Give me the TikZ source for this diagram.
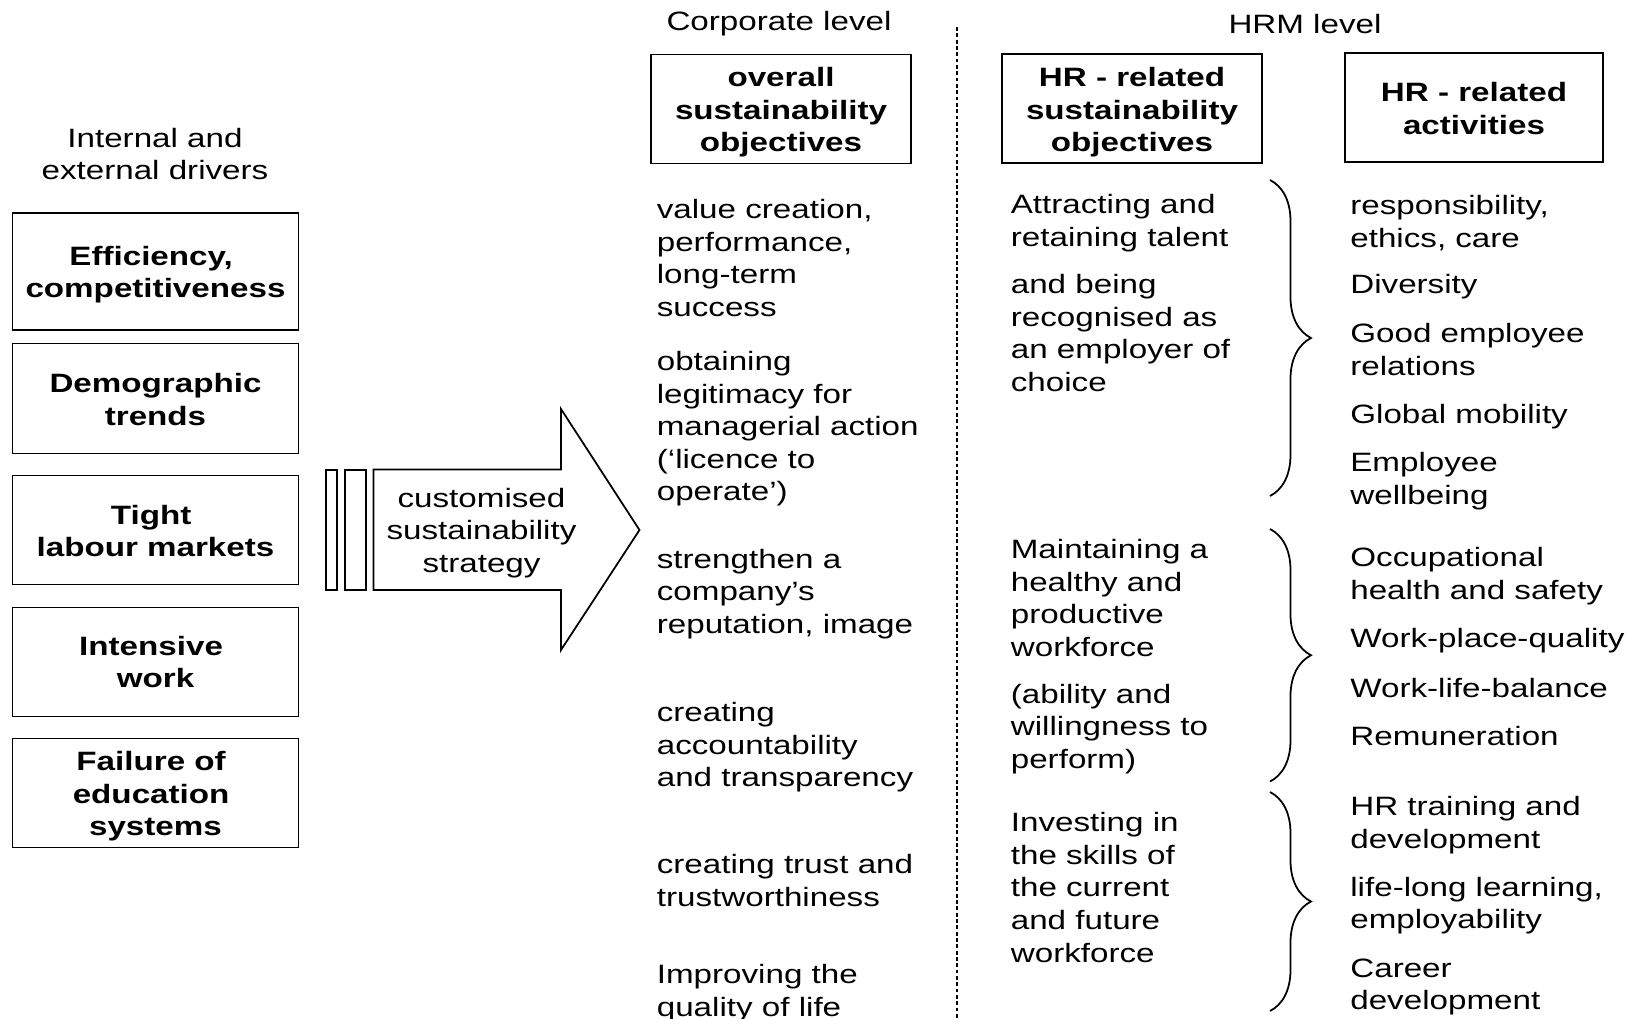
\documentclass[tikz,border=0pt]{standalone}
\usepackage{fontspec}
\setmainfont{Liberation Sans}[FakeStretch=1.25]
\usepackage{tikz}
\usetikzlibrary{decorations.pathreplacing}
\newcommand\figfont{\fontsize{15.1pt}{18.5pt}\selectfont}
\newcommand\tgap{\kern5pt}
\tikzset{
  dBox/.style={draw,line width=1pt,minimum width=5.72cm,minimum height=2.18cm,inner sep=0pt},
  hBox/.style={draw,line width=1pt,minimum height=2.18cm,inner sep=0pt},
  bTxt/.style={align=center,inner sep=0pt,font=\figfont\bfseries},
  cText/.style={anchor=west,align=left,inner sep=0pt,font=\figfont,yshift=-0.06cm},
  lvl/.style={align=center,inner sep=0pt,font=\figfont,yshift=-0.06cm},
  bar/.style={draw,line width=1pt,minimum height=2.41cm,inner sep=0pt},
  hrBrace/.style={decorate,decoration={brace,amplitude=0.82cm},line width=1pt},
}

\begin{document}
\begin{tikzpicture}[x=1cm,y=1cm]
\useasboundingbox (0,0) rectangle (32.84,-20.38);

% level headings and the divider
\node[lvl] (corp) at (15.58,-0.42) {Corporate level};
\node[lvl] (hrm)  at (26.1,-0.42)  {HRM level};
\coordinate (divtop) at (19.14,-0.54);
\coordinate (divbot) at (19.14,-20.38);
\draw[line width=0.9pt,dash pattern=on 2.2pt off 1.4pt] (divtop) -- (divbot);

% drivers
\node[lvl] (drv) at (3.1,-3.02) {Internal and\\external drivers};
\node[dBox,minimum height=2.35cm,
  label={[bTxt,yshift=-0.06cm]center:{Efficiency,\tgap\\competitiveness}}] (eff) at (3.11,-5.43) {};
\node[dBox,minimum height=2.2cm,
  label={[bTxt,yshift=-0.02cm]center:{Demographic\\trends}}] (dem) at (3.11,-7.97) {};
\node[dBox,label={[bTxt,yshift=-0.02cm]center:{Tight\tgap\\labour markets}}] (lab) at (3.11,-10.6) {};
\node[dBox,label={[bTxt]center:{Intensive\tgap\\work}}] (int) at (3.11,-13.24) {};
\node[dBox,label={[bTxt,yshift=-0.07cm]center:{Failure of\tgap\\education\tgap\\systems}}] (edu) at (3.11,-15.86) {};

% strategy arrow
\node[bar,minimum width=0.21cm] (bar1) at (6.63,-10.6) {};
\node[bar,minimum width=0.41cm] (bar2) at (7.11,-10.6) {};
\draw[line width=1pt,line join=miter] (7.47,-9.39) -- (11.22,-9.39) -- (11.22,-8.18)
  -- (12.79,-10.6) -- (11.22,-13.0) -- (11.22,-11.8) -- (7.47,-11.8) -- cycle;
\node[lvl] (strat) at (9.63,-10.6) {customised\\sustainability\\strategy};

% column heads
\node[hBox,minimum width=5.2cm,
  label={[bTxt,yshift=-0.07cm]center:{overall\\sustainability\\objectives}}] (overall) at (15.62,-2.18) {};
\node[hBox,minimum width=5.2cm,
  label={[bTxt,yshift=-0.08cm]center:{HR - related\\sustainability\\objectives}}] (hrobj) at (22.64,-2.17) {};
\node[hBox,minimum width=5.16cm,
  label={[bTxt,yshift=-0.02cm]center:{HR - related\\activities}}] (hract) at (29.48,-2.15) {};

% corporate objectives
\node[cText] (c1) at (13.13,-5.1)   {value creation,\\performance,\\long-term\\success};
\node[cText] (c2) at (13.13,-8.52)  {obtaining\\legitimacy for\\managerial action\\(‘licence to\\operate’)};
\node[cText] (c3) at (13.13,-11.82) {strengthen a\\company’s\\reputation, image};
\node[cText] (c4) at (13.13,-14.89) {creating\\accountability\\and transparency};
\node[cText] (c5) at (13.13,-17.55) {creating trust and\\trustworthiness};
\node[cText] (c6) at (13.13,-19.8)  {Improving the\\quality of life};

% HR objectives
\node[cText] (o1) at (20.21,-4.4)   {Attracting and\\retaining talent};
\node[cText] (o2) at (20.21,-6.6)   {and being\\recognised as\\an employer of\\choice};
\node[cText] (o3) at (20.21,-11.9)  {Maintaining a\\healthy and\\productive\\workforce};
\node[cText] (o4) at (20.21,-14.52) {(ability and\\willingness to\\perform)};
\node[cText] (o5) at (20.21,-17.69) {Investing in\\the skills of\\the current\\and future\\workforce};

% braces
\coordinate (b1t) at (25.4,-3.6);   \coordinate (b1b) at (25.4,-9.92);
\coordinate (b2t) at (25.4,-10.58); \coordinate (b2b) at (25.4,-15.63);
\coordinate (b3t) at (25.4,-15.84); \coordinate (b3b) at (25.4,-20.22);
\draw[hrBrace] (b1t) -- (b1b);
\draw[hrBrace] (b2t) -- (b2b);
\draw[hrBrace] (b3t) -- (b3b);

% HR activities
\node[cText] (a1)  at (27.0,-4.4)   {responsibility,\\ethics, care};
\node[cText] (a2)  at (27.0,-5.68)  {Diversity};
\node[cText] (a3)  at (27.0,-6.93)  {Good employee\\relations};
\node[cText] (a4)  at (27.0,-8.27)  {Global mobility};
\node[cText] (a5)  at (27.0,-9.56)  {Employee\\wellbeing};
\node[cText] (a6)  at (27.0,-11.46) {Occupational\\health and safety};
\node[cText] (a7)  at (27.0,-12.75) {Work-place-quality};
\node[cText] (a8)  at (27.0,-13.7)  {Work-life-balance};
\node[cText] (a9)  at (27.0,-14.66) {Remuneration};
\node[cText] (a10) at (27.0,-16.44) {HR training and\\development};
\node[cText] (a11) at (27.0,-18.05) {life-long learning,\\employability};
\node[cText] (a12) at (27.0,-19.68) {Career\\development};
\end{tikzpicture}
\end{document}
